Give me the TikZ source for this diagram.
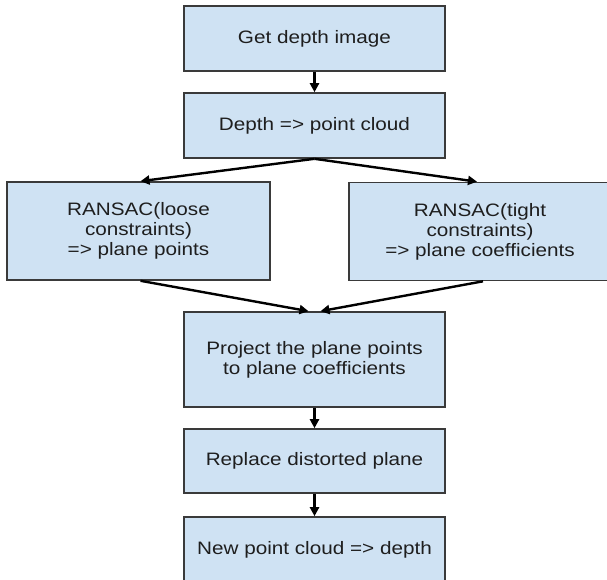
\documentclass[tikz,border=0pt]{standalone}
\usepackage{fontspec}
\setmainfont{Liberation Sans}[FakeStretch=1.15]
\usetikzlibrary{arrows.meta}
\definecolor{boxfill}{HTML}{CFE2F3}
\definecolor{boxline}{HTML}{3A3A3A}
\definecolor{txt}{HTML}{1E1E1E}
\begin{document}
\begin{tikzpicture}[x=1pt,y=-1pt,
  stepbox/.style={draw=boxline, line width=1.6pt, fill=boxfill, rectangle,
    minimum width=261pt, inner sep=0pt, align=center, text=txt,
    font=\fontsize{18}{20}\selectfont},
  flow/.style={line width=2.4pt, -{Triangle[length=9pt,width=9pt]}}]
\useasboundingbox (0,0) rectangle (607,580);
\begin{scope}
\clip (0,0) rectangle (607,580);
% process boxes
\node[stepbox, minimum height=65pt] (b1) at (314.5,38.5) {Get depth image};
\node[stepbox, minimum height=65pt] (b2) at (314.5,125.5) {Depth => point cloud};
\node[stepbox, minimum width=263pt, minimum height=98pt] (L) at (138.5,231)
  {RANSAC(loose\\constraints)\\=> plane points};
\node[stepbox, minimum width=262pt, minimum height=98pt] (R) at (480,231.5)
  {RANSAC(tight\\constraints)\\=> plane coefficients};
\node[stepbox, minimum height=95pt] (P) at (314.5,359.5)
  {Project the plane points\\to plane coefficients};
\node[stepbox, minimum height=64pt] (Rp) at (314.5,461) {Replace distorted plane};
\node[stepbox, minimum height=66pt] (N) at (314.5,550) {New point cloud => depth};
% connectors
\draw[flow] (b1) -- (b2);
\draw[flow] (b2.south) -- ([xshift=2pt]L.north);
\draw[flow] (b2.south) -- ([xshift=-3pt]R.north);
\draw[flow] ([xshift=2pt]L.south) -- ([xshift=-6pt]P.north);
\draw[flow] ([xshift=3pt]R.south) -- ([xshift=6pt]P.north);
\draw[flow] (P) -- (Rp);
\draw[flow] (Rp) -- (N);
\end{scope}
\end{tikzpicture}
\end{document}
